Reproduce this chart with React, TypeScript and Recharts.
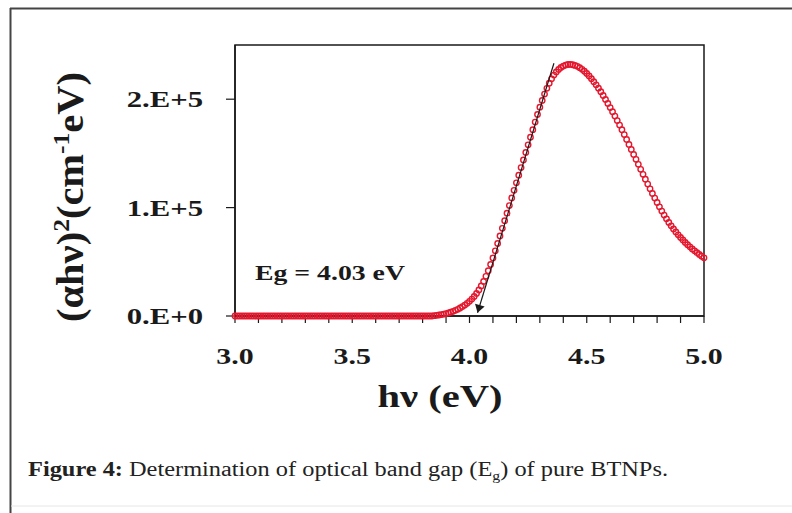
import { ReferenceArea, Scatter, ScatterChart, XAxis, YAxis } from "recharts";

// photon energy hν (eV)
const energies = [
  3.0, 3.01, 3.02, 3.03, 3.04, 3.05, 3.06, 3.07, 3.08, 3.09,
  3.1, 3.11, 3.12, 3.13, 3.14, 3.15, 3.16, 3.17, 3.18, 3.19,
  3.2, 3.21, 3.22, 3.23, 3.24, 3.25, 3.26, 3.27, 3.28, 3.29,
  3.3, 3.31, 3.32, 3.33, 3.34, 3.35, 3.36, 3.37, 3.38, 3.39,
  3.4, 3.41, 3.42, 3.43, 3.44, 3.45, 3.46, 3.47, 3.48, 3.49,
  3.5, 3.51, 3.52, 3.53, 3.54, 3.55, 3.56, 3.57, 3.58, 3.59,
  3.6, 3.61, 3.62, 3.63, 3.64, 3.65, 3.66, 3.67, 3.68, 3.69,
  3.7, 3.71, 3.72, 3.73, 3.74, 3.75, 3.76, 3.77, 3.78, 3.79,
  3.8, 3.81, 3.82, 3.83, 3.84, 3.85, 3.86, 3.87, 3.88, 3.89,
  3.9, 3.91, 3.92, 3.93, 3.94, 3.95, 3.96, 3.97, 3.98, 3.99,
  4.0, 4.01, 4.02, 4.03, 4.04, 4.05, 4.06, 4.07, 4.08, 4.09,
  4.1, 4.11, 4.12, 4.13, 4.14, 4.15, 4.16, 4.17, 4.18, 4.19,
  4.2, 4.21, 4.22, 4.23, 4.24, 4.25, 4.26, 4.27, 4.28, 4.29,
  4.3, 4.31, 4.32, 4.33, 4.34, 4.35, 4.36, 4.37, 4.38, 4.39,
  4.4, 4.41, 4.42, 4.43, 4.44, 4.45, 4.46, 4.47, 4.48, 4.49,
  4.5, 4.51, 4.52, 4.53, 4.54, 4.55, 4.56, 4.57, 4.58, 4.59,
  4.6, 4.61, 4.62, 4.63, 4.64, 4.65, 4.66, 4.67, 4.68, 4.69,
  4.7, 4.71, 4.72, 4.73, 4.74, 4.75, 4.76, 4.77, 4.78, 4.79,
  4.8, 4.81, 4.82, 4.83, 4.84, 4.85, 4.86, 4.87, 4.88, 4.89,
  4.9, 4.91, 4.92, 4.93, 4.94, 4.95, 4.96, 4.97, 4.98, 4.99,
  5.0,
];

// (αhν)² in units of 10³ cm⁻¹eV
const alphaHvSqK = [
  0, 0, 0, 0, 0, 0, 0, 0, 0, 0,
  0, 0, 0, 0, 0, 0, 0, 0, 0, 0,
  0, 0, 0, 0, 0, 0, 0, 0, 0, 0,
  0, 0, 0, 0, 0, 0, 0, 0, 0, 0,
  0, 0, 0, 0, 0, 0, 0, 0, 0, 0,
  0, 0, 0, 0, 0, 0, 0, 0, 0, 0,
  0, 0, 0, 0, 0, 0, 0, 0, 0, 0,
  0, 0, 0, 0, 0, 0, 0, 0, 0, 0,
  0, 0, 0, 0, 0, 0.3, 0.6, 0.9, 1.3, 1.7,
  2.2, 2.8, 3.5, 4.3, 5.2, 6.2, 7.4, 8.7, 10.1, 11.7,
  13.5, 15.6, 18.0, 20.8, 24.0, 27.7, 31.9, 36.6, 41.8, 47.5,
  53.6, 60.1, 66.9, 73.9, 80.9, 87.9, 94.9, 101.9, 108.9, 115.9,
  122.9, 129.9, 136.9, 143.9, 150.9, 157.9, 164.9, 171.9, 178.9, 185.9,
  192.6, 198.9, 204.7, 210.0, 214.7, 218.8, 222.3, 225.2, 227.5, 229.3,
  230.6, 231.5, 232.0, 232.1, 231.8, 231.2, 230.3, 229.1, 227.6, 225.8,
  223.7, 221.4, 218.9, 216.2, 213.3, 210.2, 206.9, 203.4, 199.8, 196.1,
  192.3, 188.4, 184.4, 180.3, 176.1, 171.8, 167.4, 162.9, 158.3, 153.7,
  149.1, 144.5, 139.9, 135.3, 130.7, 126.2, 121.7, 117.3, 113.0, 108.8,
  104.7, 100.7, 96.8, 93.1, 89.6, 86.3, 83.2, 80.3, 77.5, 74.9,
  72.4, 70.1, 67.9, 65.8, 63.8, 61.9, 60.1, 58.4, 56.8, 55.2,
  53.7,
];

const xTicks = [
  3.0, 3.1, 3.2, 3.3, 3.4, 3.5, 3.6, 3.7, 3.8, 3.9,
  4.0, 4.1, 4.2, 4.3, 4.4, 4.5, 4.6, 4.7, 4.8, 4.9, 5.0,
];
const xMajorTicks = [3.0, 3.5, 4.0, 4.5, 5.0];
const yTicks = [0, 100000, 200000];
const yTickLabels = ["0.E+0", "1.E+5", "2.E+5"];

// tangent to the absorption edge, extrapolated down to the energy axis
const bandGap = 4.03;
const tangentTop = { x: 4.36, y: 233200 };
const tangentTipY = 3000;

const RED = "#e3182e";
const INK = "#1a1a1a";
const SERIF = "'Liberation Serif', 'Times New Roman', serif";

const curve = energies.map((x, i) => ({ x, y: alphaHvSqK[i] * 1000 }));

const slope = tangentTop.y / (tangentTop.x - bandGap);
const tangent = [
  { x: tangentTop.x, y: tangentTop.y, tip: false },
  { x: bandGap + tangentTipY / slope, y: tangentTipY, tip: true },
];

function Ring(props: any) {
  const { cx, cy } = props;
  return <circle cx={cx} cy={cy} r={2.7} fill="none" stroke={RED} strokeWidth={1.4} />;
}

function ArrowHead(props: any) {
  const { cx, cy, payload } = props;
  if (!payload?.tip) return <g />;
  return (
    <path
      d={`M ${cx} ${cy} L ${cx - 5} ${cy - 8} L ${cx + 5} ${cy - 8} Z`}
      fill={INK}
      transform={`rotate(16.7, ${cx}, ${cy})`}
    />
  );
}

function XTick(props: any) {
  const { x, payload } = props;
  const v = payload.value;
  if (!xMajorTicks.some((t) => Math.abs(t - v) < 1e-6)) return <g />;
  return (
    <text
      transform={`translate(${x}, 364) scale(1.3, 1)`}
      textAnchor="middle"
      fontFamily={SERIF}
      fontWeight="bold"
      fontSize={23}
      fill={INK}
    >
      {v.toFixed(1)}
    </text>
  );
}

function YTick(props: any) {
  const { x, y, payload } = props;
  const label = yTickLabels[yTicks.indexOf(payload.value)];
  return (
    <text
      transform={`translate(${x}, ${y + 8}) scale(1.28, 1)`}
      textAnchor="end"
      fontFamily={SERIF}
      fontWeight="bold"
      fontSize={24}
      fill={INK}
    >
      {label}
    </text>
  );
}

const xTitle = () => (
  <text
    x={440}
    y={407}
    textAnchor="middle"
    fontFamily={SERIF}
    fontWeight="bold"
    fontSize={32}
    fill={INK}
    textLength={125}
    lengthAdjust="spacingAndGlyphs"
  >
    hν (eV)
  </text>
);

const yTitle = () => (
  <text
    transform="translate(83, 197) rotate(-90)"
    textAnchor="middle"
    fontFamily={SERIF}
    fontWeight="bold"
    fontSize={38}
    fill={INK}
    textLength={250}
    lengthAdjust="spacingAndGlyphs"
  >
    (αhν)
    <tspan fontSize={24} dy={-14}>2</tspan>
    <tspan dy={14}>(cm</tspan>
    <tspan fontSize={24} dy={-14}>-1</tspan>
    <tspan dy={14}>eV)</tspan>
  </text>
);

export default function App() {
  return (
    <div
      style={{
        position: "absolute",
        left: 0,
        top: 0,
        width: 792,
        height: 513,
        background: "#fff",
        overflow: "hidden",
      }}
    >
      <ScatterChart width={792} height={513} margin={{ top: 45, right: 88, bottom: 137, left: 0 }}>
        <XAxis
          type="number"
          dataKey="x"
          domain={[3, 5]}
          ticks={xTicks}
          interval={0}
          height={60}
          tickSize={7}
          tick={<XTick />}
          axisLine={{ stroke: INK, strokeWidth: 1.5 }}
          tickLine={{ stroke: INK, strokeWidth: 1.2 }}
          label={{ content: xTitle }}
        />
        <YAxis
          type="number"
          dataKey="y"
          domain={[0, 250000]}
          ticks={yTicks}
          interval={0}
          width={235}
          tickSize={9}
          tickMargin={23}
          tick={<YTick />}
          axisLine={{ stroke: INK, strokeWidth: 1.5 }}
          tickLine={{ stroke: INK, strokeWidth: 1.2 }}
          label={{ content: yTitle }}
        />
        <ReferenceArea x1={3} x2={5} y1={0} y2={250000} fill="none" stroke={INK} strokeWidth={1.5} fillOpacity={0} />
        <Scatter data={curve} shape={<Ring />} isAnimationActive={false} />
        <Scatter
          data={tangent}
          line={{ stroke: INK, strokeWidth: 1.2 }}
          shape={<ArrowHead />}
          isAnimationActive={false}
        />
      </ScatterChart>
      <svg
        width={792}
        height={513}
        style={{ position: "absolute", left: 0, top: 0, pointerEvents: "none" }}
      >
        <line x1={10.5} y1={8} x2={10.5} y2={513} stroke="#444" strokeWidth={2} />
        <line x1={10} y1={8.5} x2={792} y2={8.5} stroke="#444" strokeWidth={2} />
        <line x1={11} y1={506} x2={792} y2={506} stroke="#e6e6e6" strokeWidth={1} />
        <text
          x={255}
          y={280}
          fontFamily={SERIF}
          fontWeight="bold"
          fontSize={22}
          fill={INK}
          textLength={150}
          lengthAdjust="spacingAndGlyphs"
        >
          Eg = 4.03 eV
        </text>
        <text
          x={28}
          y={476}
          fontFamily={SERIF}
          fontSize={20}
          fill="#222"
          textLength={640}
          lengthAdjust="spacingAndGlyphs"
        >
          <tspan fontWeight="bold">Figure 4: </tspan>
          Determination of optical band gap (E
          <tspan fontSize={13} dy={4}>g</tspan>
          <tspan dy={-4}>)  of pure BTNPs.</tspan>
        </text>
      </svg>
    </div>
  );
}
